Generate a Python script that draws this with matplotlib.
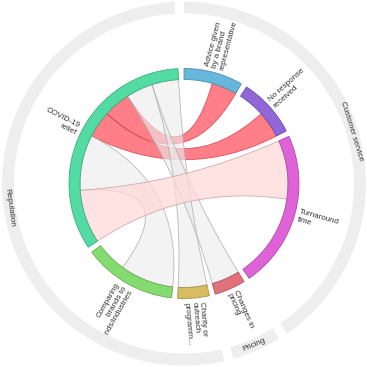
import numpy as np
import matplotlib
matplotlib.use("Agg")
import matplotlib.pyplot as plt
from matplotlib.path import Path
from matplotlib.patches import PathPatch, Wedge
from matplotlib.colors import to_rgb

plt.rcParams['font.family'] = ['Liberation Sans', 'DejaVu Sans']

# ---------------- data ----------------
categories = ["Advice given by a brand representative", "No response received",
              "Turnaround time", "Changes in pricing", "Charity or outreach programmes",
              "Comparing brands to brands/industries", "COVID-19 relief"]
labels = ["Advice given\nby a brand\nrepresentative", "No response\nreceived",
          "Turnaround\ntime", "Changes in\npricing", "Charity or\noutreach\nprogramm...",
          "Comparing\nbrands to\nbrands/industries", "COVID-19\nrelief"]
group_totals = [2.0, 2.0, 5.33, 1.05, 1.07, 3.15, 8.07]
parents = ["Customer service", "Customer service", "Customer service", "Pricing",
           "Reputation", "Reputation", "Reputation"]
parent_names = ["Customer service", "Pricing", "Reputation"]

# links: (group a, group b, width at a, width at b, kind)
link_a = [6, 6, 6, 6, 6, 6]
link_b = [2, 5, 1, 0, 3, 4]
width_a = [2.0, 2.07, 1.0, 1.0, 1.0, 1.0]
width_b = [2.2, 2.0, 1.0, 0.95, 1.05, 1.07]
link_kind = ["pink", "grey", "red", "red", "grey", "grey"]

# order of slots inside each group (index into links, -1 = unused part)
slot_order = {0: [-1, 3], 1: [-1, 2], 2: [0, -1], 3: [4], 4: [5], 5: [1, -1],
              6: [0, 1, 2, 3, 4, 5]}

colors = ["#67b6dc", "#9066d8", "#e062d8", "#e0707a", "#d8bc60", "#84dc70", "#52dca4"]
kind_style = {
    "red": dict(fc="#ff737d", ec="#d0404c", alpha=0.92, z=1),
    "grey": dict(fc="#ececec", ec="#a8a8a8", alpha=0.62, z=2),
    "pink": dict(fc="#ffd9d9", ec="#c89a9a", alpha=0.75, z=3),
}

# ---------------- layout ----------------
PAD = 3.0
R_IN, R_OUT = 104, 115
R_RING_IN, R_RING_OUT = 170, 182
n = len(group_totals)
k = (360 - n * PAD) / sum(group_totals)
starts, ends = [], []
a = 0.0
for v in group_totals:
    starts.append(a)
    ends.append(a + v * k)
    a += v * k + PAD

# slot angles for each link end
slot_ang = {}
for g in range(n):
    pos = starts[g]
    for li in slot_order[g]:
        if li == -1:
            used = sum(width_a[l] if link_a[l] == g else width_b[l]
                       for l in range(len(link_a)) if g in (link_a[l], link_b[l]))
            w = group_totals[g] - used
        else:
            w = width_a[li] if link_a[li] == g else width_b[li]
        if li != -1:
            slot_ang[(li, g)] = (pos, pos + w * k)
        pos += w * k


def pt(th, r):
    t = np.radians(th)
    return (r * np.sin(t), r * np.cos(t))


def arc(a0, a1, r, m=40):
    return [pt(t, r) for t in np.linspace(a0, a1, m)]


def ribbon(s0, s1, t0, t1, r):
    verts, codes = [], []
    p = arc(s0, s1, r)
    verts += p
    codes += [Path.MOVETO] + [Path.LINETO] * (len(p) - 1)
    verts += [(0, 0), pt(t0, r)]
    codes += [Path.CURVE3, Path.CURVE3]
    q = arc(t0, t1, r)[1:]
    verts += q
    codes += [Path.LINETO] * len(q)
    verts += [(0, 0), pt(s0, r)]
    codes += [Path.CURVE3, Path.CURVE3]
    verts.append(pt(s0, r))
    codes.append(Path.CLOSEPOLY)
    return Path(verts, codes)


fig = plt.figure(figsize=(3.67, 3.67), dpi=100)
ax = fig.add_axes([0, 0, 1, 1])
ax.set_xlim(-184, 183)
ax.set_ylim(-183.5, 183.5)
ax.set_aspect('equal')
ax.axis('off')

# ribbons
for li in range(len(link_a)):
    s0, s1 = slot_ang[(li, link_a[li])]
    t0, t1 = slot_ang[(li, link_b[li])]
    st = kind_style[link_kind[li]]
    ax.add_patch(PathPatch(ribbon(s0, s1, t0, t1, R_IN), fc=st["fc"], ec='none',
                           alpha=st["alpha"], zorder=st["z"]))
    ax.add_patch(PathPatch(ribbon(s0, s1, t0, t1, R_IN), fc='none', ec=st["ec"],
                           lw=0.6, alpha=0.8, zorder=st["z"] + 0.1))

# group arcs
for g in range(n):
    c = np.array(to_rgb(colors[g]))
    ax.add_patch(Wedge((0, 0), R_OUT, 90 - ends[g], 90 - starts[g], width=R_OUT - R_IN,
                       fc=colors[g], ec=tuple(c * 0.78), lw=0.6, zorder=5))
    mid = (starts[g] + ends[g]) / 2
    x, y = pt(mid, 119)
    if mid < 180:
        rot, ha = 90 - mid, 'left'
    else:
        rot, ha = 270 - mid, 'right'
    ax.text(x, y, labels[g], rotation=rot, rotation_mode='anchor', ha=ha, va='center',
            multialignment=ha, fontsize=5.8, color='#333333', zorder=6, linespacing=1.1)

# outer parent ring
for p in parent_names:
    idx = [i for i in range(n) if parents[i] == p]
    a0, a1 = starts[idx[0]], ends[idx[-1]]
    ax.add_patch(Wedge((0, 0), R_RING_OUT, 90 - a1, 90 - a0, width=R_RING_OUT - R_RING_IN,
                       fc='#eeeeee', ec='none', zorder=7))
    mid = (a0 + a1) / 2
    rot = -mid
    while rot < -90:
        rot += 180
    while rot >= 90:
        rot -= 180
    x, y = pt(mid, (R_RING_IN + R_RING_OUT) / 2)
    ax.text(x, y, p, rotation=rot, rotation_mode='anchor', ha='center', va='center',
            fontsize=5.8, color='#333333', zorder=8)

fig.savefig("out.png", dpi=100, facecolor='white')
